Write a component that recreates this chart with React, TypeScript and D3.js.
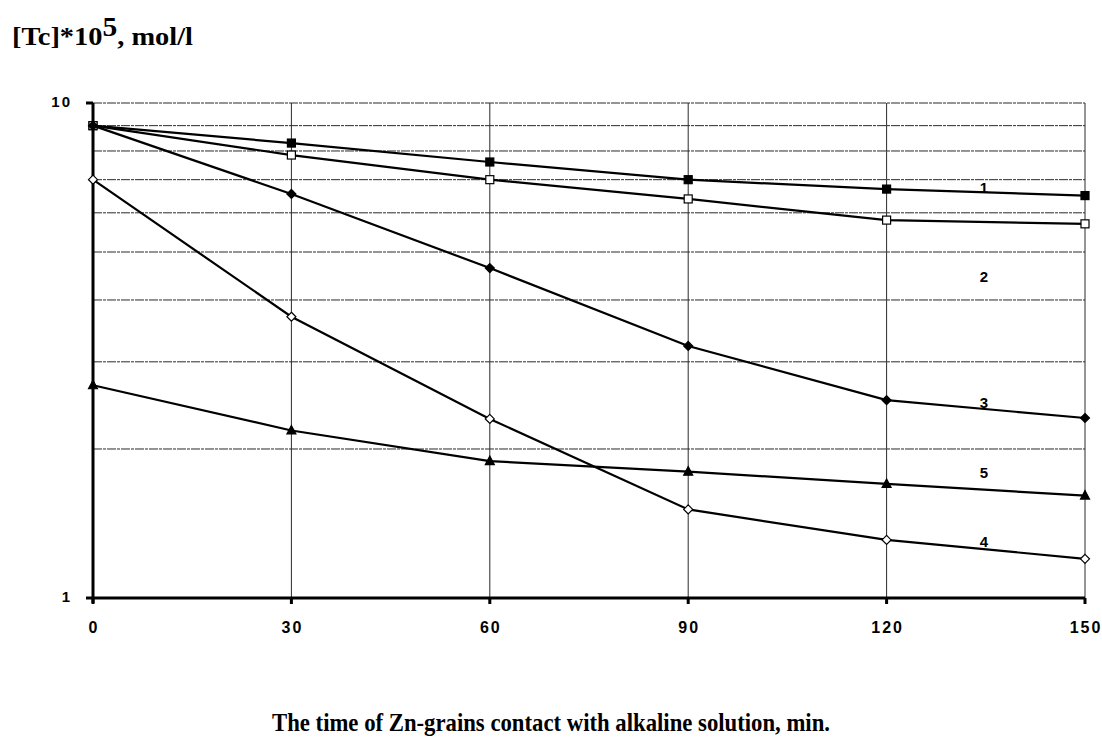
import { useEffect, useRef } from "react";
import * as d3 from "d3";

// contact time, min
const times = [0, 30, 60, 90, 120, 150];
// [Tc]*10^5, mol/l for each curve
const curve1 = [9.0, 8.3, 7.6, 7.0, 6.7, 6.5];
const curve2 = [9.0, 7.85, 7.0, 6.4, 5.8, 5.7];
const curve3 = [9.0, 6.55, 4.64, 3.23, 2.51, 2.31];
const curve4 = [7.0, 3.7, 2.3, 1.51, 1.31, 1.2];
const curve5 = [2.69, 2.18, 1.89, 1.8, 1.7, 1.61];
const curveNames = ["1", "2", "3", "4", "5"];
const markers = ["filledSquare", "openSquare", "filledDiamond", "openDiamond", "filledTriangle"];
const yTicks = [1, 10];
const yGrid = [2, 3, 4, 5, 6, 7, 8, 9, 10];
// where each curve number sits (baseline value on y, time on x)
const labelPos = [
  { t: 134.7, v: 6.58 },
  { t: 134.7, v: 4.34 },
  { t: 134.7, v: 2.42 },
  { t: 134.7, v: 1.27 },
  { t: 134.7, v: 1.75 },
];

const App = () => {
  const svgRef = useRef<SVGSVGElement>(null);

  useEffect(() => {
    const svg = d3.select(svgRef.current);
    svg.selectAll("*").remove();

    const left = 93, right = 1085, top = 103, bottom = 598;
    const x = d3.scaleLinear().domain([0, 150]).range([left, right]);
    const y = d3.scaleLog().domain([1, 10]).range([bottom, top]);

    const series = [curve1, curve2, curve3, curve4, curve5];
    const sans = "'Liberation Sans', Arial, sans-serif";
    const serif = "'Liberation Serif', 'Times New Roman', serif";

    // grid
    const grid = svg.append("g");
    grid.selectAll("line.h")
      .data(yGrid)
      .enter()
      .append("line")
      .attr("x1", left).attr("x2", right)
      .attr("y1", (d) => y(d)).attr("y2", (d) => y(d))
      .attr("stroke", "#2a2a2a")
      .attr("stroke-width", 1)
      .attr("stroke-dasharray", "9 1 3 1");
    grid.selectAll("line.v")
      .data(times.slice(1))
      .enter()
      .append("line")
      .attr("x1", (d) => x(d)).attr("x2", (d) => x(d))
      .attr("y1", top).attr("y2", bottom)
      .attr("stroke", "#2a2a2a")
      .attr("stroke-width", 1);

    // axes
    svg.append("line")
      .attr("x1", x(0)).attr("x2", x(0))
      .attr("y1", top).attr("y2", bottom + 5)
      .attr("stroke", "#000").attr("stroke-width", 3);
    svg.append("line")
      .attr("x1", left - 7).attr("x2", right)
      .attr("y1", bottom).attr("y2", bottom)
      .attr("stroke", "#000").attr("stroke-width", 3);
    svg.append("line")
      .attr("x1", left - 7).attr("x2", left)
      .attr("y1", top).attr("y2", top)
      .attr("stroke", "#000").attr("stroke-width", 3);
    svg.selectAll("line.xt")
      .data(times)
      .enter()
      .append("line")
      .attr("x1", (d) => x(d)).attr("x2", (d) => x(d))
      .attr("y1", bottom).attr("y2", bottom + 6)
      .attr("stroke", "#000").attr("stroke-width", 3);

    svg.selectAll("text.xt")
      .data(times)
      .enter()
      .append("text")
      .attr("x", (d) => x(d) + 1)
      .attr("y", bottom + 35)
      .attr("text-anchor", "middle")
      .attr("font-family", sans)
      .attr("font-weight", "bold")
      .attr("font-size", 16)
      .attr("letter-spacing", 2)
      .text((d) => d);
    svg.selectAll("text.yt")
      .data(yTicks)
      .enter()
      .append("text")
      .attr("x", left - 21)
      .attr("y", (d) => y(d) + 4)
      .attr("text-anchor", "end")
      .attr("font-family", sans)
      .attr("font-weight", "bold")
      .attr("font-size", 15)
      .attr("letter-spacing", 2)
      .text((d) => d);

    // curves
    const line = d3.line<number>()
      .x((_, i) => x(times[i]))
      .y((d) => y(d));
    series.forEach((s, k) => {
      svg.append("path")
        .attr("d", line(s))
        .attr("fill", "none")
        .attr("stroke", "#000")
        .attr("stroke-width", 2.2);

      const type = markers[k];
      const g = svg.append("g");
      s.forEach((v, i) => {
        const cx = x(times[i]), cy = y(v);
        const filled = type.startsWith("filled");
        let shape;
        if (type.endsWith("Square")) {
          shape = g.append("rect")
            .attr("x", cx - 4).attr("y", cy - 4)
            .attr("width", 8).attr("height", 8);
        } else if (type.endsWith("Diamond")) {
          shape = g.append("path")
            .attr("d", `M${cx},${cy - 4.5}L${cx + 4.5},${cy}L${cx},${cy + 4.5}L${cx - 4.5},${cy}Z`);
        } else {
          shape = g.append("path")
            .attr("d", `M${cx},${cy - 5}L${cx + 4.5},${cy + 3.5}L${cx - 4.5},${cy + 3.5}Z`);
        }
        shape
          .attr("fill", filled ? "#000" : "#fff")
          .attr("stroke", "#000")
          .attr("stroke-width", 1.2);
      });
    });

    // curve numbers
    svg.selectAll("text.lbl")
      .data(labelPos)
      .enter()
      .append("text")
      .attr("x", (d) => x(d.t))
      .attr("y", (d) => y(d.v))
      .attr("text-anchor", "middle")
      .attr("font-family", sans)
      .attr("font-weight", "bold")
      .attr("font-size", 15)
      .text((_, i) => curveNames[i]);

    // titles
    const yt = svg.append("text")
      .attr("x", 12)
      .attr("y", 45)
      .attr("font-family", serif)
      .attr("font-weight", "bold")
      .attr("font-size", 26)
      .attr("textLength", 181)
      .attr("lengthAdjust", "spacingAndGlyphs");
    yt.append("tspan").text("[Tc]*10");
    yt.append("tspan").attr("dy", -9).attr("font-size", 27).text("5");
    yt.append("tspan").attr("dy", 9).text(", mol/l");

    svg.append("text")
      .attr("x", 272)
      .attr("y", 731)
      .attr("font-family", serif)
      .attr("font-weight", "bold")
      .attr("font-size", 25)
      .attr("textLength", 558)
      .attr("lengthAdjust", "spacingAndGlyphs")
      .text("The time of Zn-grains contact with alkaline solution, min.");
  }, []);

  return (
    <svg
      ref={svgRef}
      width={1102}
      height={740}
      style={{ position: "absolute", left: 0, top: 0, background: "#fff" }}
    />
  );
};

export default App;
